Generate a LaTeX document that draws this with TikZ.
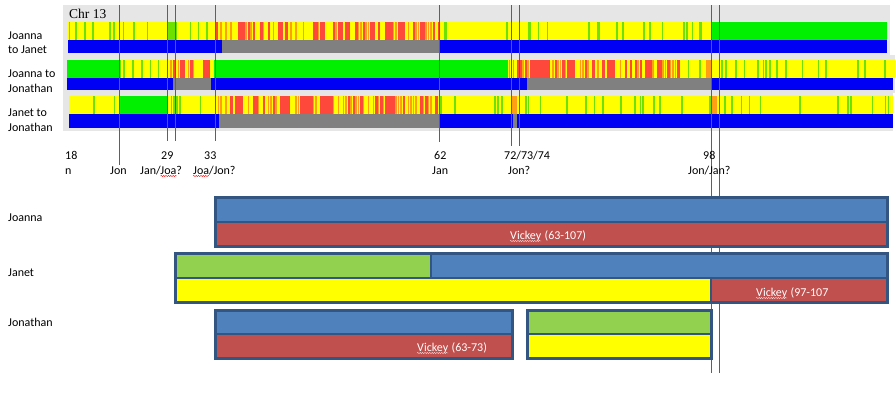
\documentclass[tikz,border=0pt]{standalone}
\usepackage{fontspec}
\setmainfont{Carlito}
\newfontfamily\serfont{Liberation Serif}
\usetikzlibrary{decorations.pathmorphing}

\definecolor{panel}{RGB}{230,230,230}
\definecolor{yel}{RGB}{255,255,0}
\definecolor{grn}{RGB}{0,240,0}
\definecolor{lgrn}{RGB}{110,225,0}
\definecolor{rd}{RGB}{255,72,60}
\definecolor{org}{RGB}{255,160,20}
\definecolor{blu}{RGB}{0,0,245}
\definecolor{gry}{RGB}{128,128,128}
\definecolor{tickcol}{RGB}{55,100,185}
\definecolor{boxblue}{RGB}{79,129,189}
\definecolor{boxred}{RGB}{192,80,77}
\definecolor{boxgreen}{RGB}{146,208,80}
\definecolor{boxline}{RGB}{50,85,130}

% yellow with green ticks: from, to, top, bottom, count
\newcommand\ygband[5]{%
  \fill[yel] (#1,#3) rectangle (#2,#4);
  \foreach \k in {1,...,#5}{%
    \pgfmathsetmacro\xx{#1+rnd*(#2-#1-2)}
    \fill[lgrn] (\xx,#3) rectangle (\xx+1.6,#4);}}

% red/orange/yellow mix: from, to, top, bottom
\newcommand\mixband[4]{%
  \fill[yel] (#1,#3) rectangle (#2,#4);
  \pgfmathtruncatemacro\nn{(#2-#1)/2.5-1}
  \foreach \k in {0,...,\nn}{%
    \pgfmathsetmacro\xx{#1+2.5*\k}
    \pgfmathtruncatemacro\cc{int(rnd*10)}
    \ifnum\cc<4 \fill[rd] (\xx,#3) rectangle (\xx+2.5,#4);
    \else\ifnum\cc<7 \fill[org] (\xx,#3) rectangle (\xx+1.5,#4);\fi\fi}}

\begin{document}
\begin{tikzpicture}[x=1pt,y=-1pt,
  lab/.style={anchor=base west,inner sep=0,font=\fontsize{12}{14}\selectfont},
  vick/.style={lab,text=white},
  tickline/.style={draw=tickcol,line width=0.9pt},
  boxframe/.style={draw=boxline,line width=3pt},
  divider/.style={draw=boxline,line width=2pt},
  squig/.style={decorate,decoration={snake,amplitude=0.6pt,segment length=2.4pt},line width=0.4pt}]

\useasboundingbox[fill=white] (0,0) rectangle (896,408);
\pgfmathsetseed{13}

  % panels
  \fill[panel] (63,5) rectangle (890,55);
  \fill[panel] (63,55) rectangle (895,93);
  \fill[panel] (63,93) rectangle (893,131);
  \node[anchor=base west,inner sep=0,font=\serfont\fontsize{13.5}{15}\selectfont] (chr) at (69,18) {Chr 13};

  % JOANNA TO JANET
  \ygband{68}{215}{22}{40}{14}
  \fill[lgrn] (167,22) rectangle (175,40);
  \mixband{215}{440}{22}{40}
  \ygband{440}{712}{22}{40}{20}
  \fill[grn] (712,22) rectangle (887,40);
  \fill[blu] (68,40) rectangle (222,53);
  \fill[gry] (222,40) rectangle (440,53);
  \fill[blu] (440,40) rectangle (887,53);

  % JOANNA TO JONATHAN
  \fill[grn] (67,60) rectangle (119,78);
  \ygband{119}{170}{60}{78}{6}
  \mixband{170}{214}{60}{78}
  \fill[grn] (214,60) rectangle (508,78);
  \ygband{508}{517}{60}{78}{2}
  \mixband{517}{680}{60}{78}
  \ygband{680}{712}{60}{78}{2}
  \fill[org] (706,60) rectangle (712,78);
  \ygband{712}{895}{60}{78}{16}
  \fill[blu] (67,78) rectangle (173,90);
  \fill[gry] (173,78) rectangle (211,90);
  \fill[blu] (211,78) rectangle (527,90);
  \fill[gry] (527,78) rectangle (712,90);
  \fill[blu] (712,78) rectangle (893,90);

  % JANET TO JONATHAN
  \ygband{69}{120}{96}{114}{3}
  \fill[grn] (120,96) rectangle (167,114);
  \ygband{167}{215}{96}{114}{5}
  \mixband{215}{440}{96}{114}
  \ygband{440}{893}{96}{114}{34}
  \fill[org] (512,96) rectangle (517,114);
  \fill[org] (712,96) rectangle (717,114);
  \fill[blu] (69,114) rectangle (219,128);
  \fill[gry] (219,114) rectangle (440,128);
  \fill[blu] (440,114) rectangle (893,128);
  \fill[gry] (513,114) rectangle (517,128);

  \node[lab] (r1a) at (8,39) {Joanna};
  \node[lab] (r1b) at (8,53) {to Janet};
  \node[lab] (r2a) at (8,77) {Joanna to};
  \node[lab] (r2b) at (8,92) {Jonathan};
  \node[lab] (r3a) at (8,116) {Janet to};
  \node[lab] (r3b) at (8,131) {Jonathan};

  % marker lines
  \foreach \x/\e in {119/165,167/141,175/141,215/141,439/142,511/146,519/146,711/373,719/373}
    \draw[tickline] (\x,5) -- (\x,\e);

  \node[lab] (p18) at (65,159) {18};
  \node[lab] (n18) at (65,174) {n};
  \node[lab] (njon) at (110,174) {Jon};
  \node[lab] (p29) at (161,159) {29};
  \node[lab] (n29) at (140,174) {Jan/Joa?};
  \node[lab] (p33) at (204,159) {33};
  \node[lab] (n33) at (193,174) {Joa/Jon?};
  \node[lab] (p62) at (434,159) {62};
  \node[lab] (n62) at (432,174) {Jan};
  \node[lab] (p72) at (504,159) {72/73/74};
  \node[lab] (n72) at (508,174) {Jon?};
  \node[lab] (p98) at (703,159) {98};
  \node[lab] (n98) at (688,174) {Jon/Jan?};
  \draw[squig,red] ([xshift=20.5pt,yshift=-2pt]n29.base west) -- ++(16,0);
  \draw[squig,red] ([yshift=-2pt]n33.base west) -- ++(16,0);

  % lower chart
  \node[lab] (joa) at (8,221) {Joanna};
  \node[lab] (jan) at (8,276) {Janet};
  \node[lab] (jon) at (8,326) {Jonathan};

  % Joanna
  \fill[boxblue] (215,197) rectangle (887,222);
  \fill[boxred] (215,222) rectangle (887,246);
  \draw[divider] (215,222) -- (887,222);
  \draw[boxframe] (215,197) rectangle (887,246);
  \node[vick] (v1) at (510,239) {Vickey};
  \node[vick] (v1n) at ([xshift=3pt]v1.base east) {(63-107)};

  % Janet
  \fill[boxgreen] (175,253) rectangle (431,278);
  \fill[boxblue] (431,253) rectangle (887,278);
  \fill[yel] (175,278) rectangle (711,302);
  \fill[boxred] (711,278) rectangle (887,302);
  \draw[divider] (175,278) -- (887,278);
  \draw[divider,line width=1.2pt] (431,253) -- (431,278);
  \draw[divider,line width=1.2pt] (711,278) -- (711,302);
  \draw[boxframe] (175,253) rectangle (887,302);
  \node[vick] (v2) at (756,296) {Vickey};
  \node[vick] (v2n) at ([xshift=3pt]v2.base east) {(97-107};

  % Jonathan
  \fill[boxblue] (215,310) rectangle (512,334);
  \fill[boxred] (215,334) rectangle (512,358);
  \draw[divider] (215,334) -- (512,334);
  \draw[boxframe] (215,310) rectangle (512,358);
  \node[vick] (v3) at (417,351) {Vickey};
  \node[vick] (v3n) at ([xshift=3pt]v3.base east) {(63-73)};
  \fill[boxgreen] (527,310) rectangle (711,334);
  \fill[yel] (527,334) rectangle (711,358);
  \draw[divider] (527,334) -- (711,334);
  \draw[boxframe] (527,310) rectangle (711,358);

  \foreach \v in {v1,v2,v3}
    \draw[squig,white!85!red] ([yshift=-2pt]\v.base west) -- ([yshift=-2pt]\v.base east);
\end{tikzpicture}
\end{document}
